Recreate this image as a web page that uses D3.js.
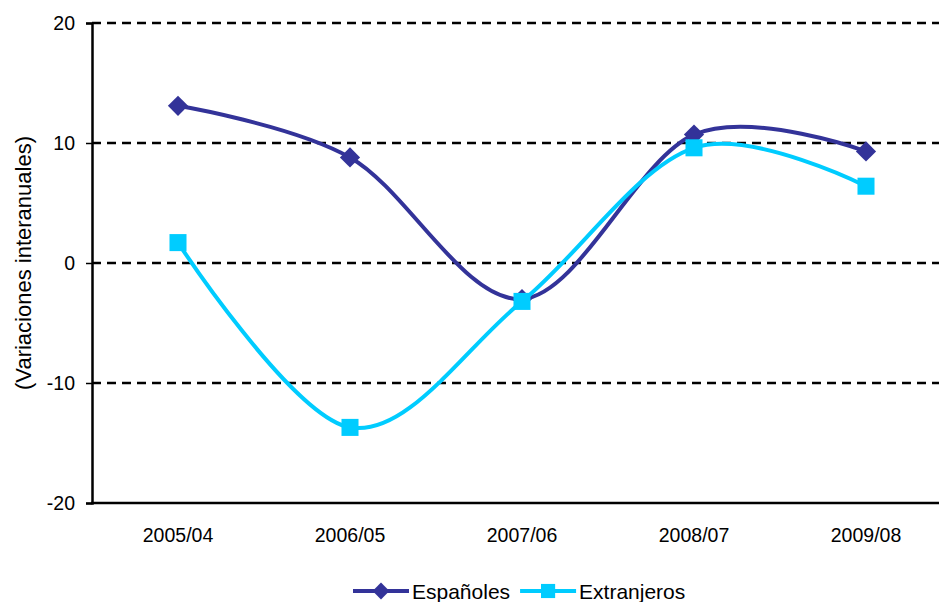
<!DOCTYPE html>
<html>
<head>
<meta charset="utf-8">
<script src="https://cdn.jsdelivr.net/npm/d3@7"></script>
<style>
  body { margin: 0; background: #fff; }
  svg { font-family: "Liberation Sans", Arial, sans-serif; display: block; }
</style>
</head>
<body>
<div id="chart"></div>
<script>
const categories = ["2005/04", "2006/05", "2007/06", "2008/07", "2009/08"];
const espanoles = [13.1, 8.8, -3.0, 10.7, 9.3];
const extranjeros = [1.7, -13.7, -3.2, 9.6, 6.4];
const yTicks = [-20, -10, 0, 10, 20];

const width = 939;
const height = 602;
const plotLeft = 92, plotTop = 23, plotBottom = 503;

const svg = d3.select("#chart")
  .append("svg")
  .attr("width", width)
  .attr("height", height);

const x = d3.scaleBand()
  .domain(categories)
  .range([plotLeft, plotLeft + 172 * categories.length]);

const y = d3.scaleLinear()
  .domain([-20, 20])
  .range([plotBottom, plotTop]);

const cx = d => x(d) + x.bandwidth() / 2;

// grid
svg.append("g")
  .selectAll("line")
  .data(yTicks.filter(t => t > -20))
  .join("line")
  .attr("x1", plotLeft)
  .attr("x2", width)
  .attr("y1", d => y(d))
  .attr("y2", d => y(d))
  .attr("stroke", "#000")
  .attr("stroke-width", 2.5)
  .attr("stroke-dasharray", "9,6");

// y axis
const yAxis = svg.append("g")
  .attr("transform", `translate(${plotLeft},0)`)
  .call(d3.axisLeft(y).tickValues(yTicks).tickSize(6).tickPadding(11).tickFormat(d => String(d)));
yAxis.select(".domain").attr("stroke-width", 2.5);
yAxis.selectAll(".tick line").attr("stroke-width", 1.5);
yAxis.selectAll("text")
  .attr("font-size", 19.5)
  .attr("font-family", "Liberation Sans, Arial, sans-serif")
  .attr("fill", "#000");

// x axis
svg.append("line")
  .attr("x1", plotLeft - 1)
  .attr("x2", width)
  .attr("y1", plotBottom)
  .attr("y2", plotBottom)
  .attr("stroke", "#000")
  .attr("stroke-width", 2.5);

svg.append("g")
  .selectAll("text")
  .data(categories)
  .join("text")
  .attr("x", d => cx(d))
  .attr("y", 542)
  .attr("text-anchor", "middle")
  .attr("font-size", 19.5)
  .text(d => d);

svg.append("text")
  .attr("transform", `translate(31,${(plotTop + plotBottom) / 2}) rotate(-90)`)
  .attr("text-anchor", "middle")
  .attr("font-size", 22)
  .text("(Variaciones interanuales)");

const line = d3.line()
  .x((d, i) => cx(categories[i]))
  .y(d => y(d))
  .curve(d3.curveCardinal.tension(0));

const series = [
  { name: "Españoles", values: espanoles, color: "#333399", shape: d3.symbolDiamond2 },
  { name: "Extranjeros", values: extranjeros, color: "#00ccff", shape: d3.symbolSquare }
];

series.forEach(s => {
  svg.append("path")
    .attr("d", line(s.values))
    .attr("fill", "none")
    .attr("stroke", s.color)
    .attr("stroke-width", 4);
});

series.forEach(s => {
  svg.append("g")
    .selectAll("path")
    .data(s.values)
    .join("path")
    .attr("transform", (d, i) => `translate(${cx(categories[i])},${y(d)})`)
    .attr("d", d3.symbol().type(s.shape).size(s.shape === d3.symbolSquare ? 290 : 260))
    .attr("fill", s.color);
});

// legend
const legend = svg.append("g").attr("transform", "translate(353,591)");
let lx = 0;
series.forEach(s => {
  const g = legend.append("g").attr("transform", `translate(${lx},0)`);
  g.append("line")
    .attr("x1", 0).attr("x2", 56)
    .attr("y1", 0).attr("y2", 0)
    .attr("stroke", s.color)
    .attr("stroke-width", 4);
  g.append("path")
    .attr("transform", "translate(28,0)")
    .attr("d", d3.symbol().type(s.shape).size(s.shape === d3.symbolSquare ? 200 : 180))
    .attr("fill", s.color);
  const t = g.append("text")
    .attr("x", 59)
    .attr("y", 8)
    .attr("font-size", 21)
    .text(s.name);
  lx += 59 + t.node().getComputedTextLength() + 10;
});
</script>
</body>
</html>
